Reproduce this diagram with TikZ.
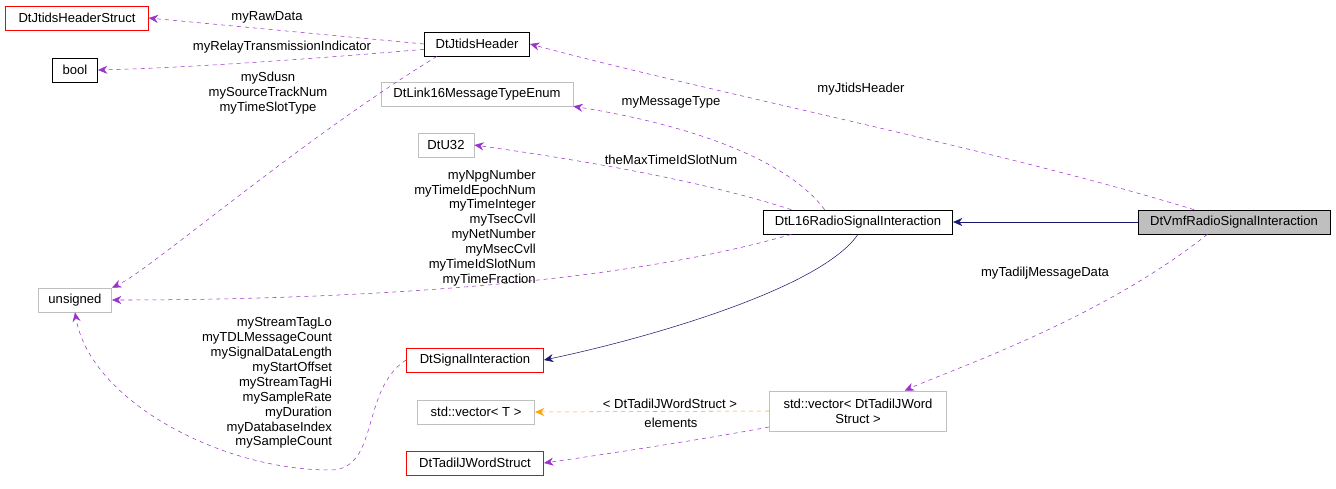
\documentclass[tikz,border=0pt]{standalone}
\usepackage{fontspec}
\setmainfont{Liberation Sans}
\usepackage{tikz}
\usetikzlibrary{positioning}
\usetikzlibrary{arrows.meta}
\definecolor{dxpurple}{HTML}{9A32CD}
\definecolor{dxnavy}{HTML}{191970}
\definecolor{dxorange}{HTML}{FFA500}
\definecolor{dxgray}{HTML}{BFBFBF}

\begin{document}
\begin{tikzpicture}[x=0.75pt,y=-0.75pt,
  font=\fontsize{9.8}{11.2}\selectfont,
  cls/.style={draw, rectangle, minimum height=18pt, inner sep=2pt, line width=0.5pt},
  red cls/.style={cls, draw=red},
  gray cls/.style={cls, draw=dxgray},
  use/.style={draw=dxpurple, dashed, -{Stealth[length=7pt,width=6pt]}},
  inh/.style={draw=dxnavy, -{Stealth[length=7pt,width=6pt]}},
  tpl/.style={draw=dxorange, dashed, -{Stealth[length=7pt,width=6pt]}},
  lbl/.style={align=center, inner sep=0pt}]

\useasboundingbox (0,0) rectangle (1336,489);

% Draw the classes
\node[red cls, minimum width=107pt] (hdrstruct) at (77,18) {DtJtidsHeaderStruct};
\node[cls, minimum width=34pt] (bool) at (75,70) {bool};
\node[cls, minimum width=79pt] (hdr) at (477,44) {DtJtidsHeader};
\node[gray cls, minimum width=144pt] (msgtype) at (477,94) {DtLink16MessageTypeEnum};
\node[gray cls, minimum width=42pt] (u32) at (446,145) {DtU32};
\node[cls, minimum width=142pt] (l16) at (858,222) {DtL16RadioSignalInteraction};
\node[cls, fill=dxgray, minimum width=144pt] (vmf) at (1234,222) {DtVmfRadioSignalInteraction};
\node[gray cls, minimum width=55pt] (unsigned) at (75,300) {unsigned};
\node[red cls, minimum width=103pt] (sig) at (475,360) {DtSignalInteraction};
\node[gray cls, minimum width=88pt] (vecT) at (476,412) {std::vector< T >};
\node[gray cls, minimum width=133pt, minimum height=30pt, align=center] (vecW) at (858,411) {std::vector< DtTadilJWord\\Struct >};
\node[red cls, minimum width=103pt] (word) at (475,463) {DtTadilJWordStruct};

% Draw the inheritance
\draw[inh] (vmf) -- (l16);
\draw[inh] (l16.south) .. controls (820,290) and (640,340) .. (sig.east);

% Draw the members
\draw[use] (hdr.west) -- (hdrstruct.east);
\draw[use] ([yshift=-4pt]hdr.west) .. controls (300,60) and (180,68) .. (bool.east);
\draw[use] ([xshift=-30pt]hdr.south) .. controls (300,140) and (150,270) .. (unsigned.north east);
\draw[use] ([xshift=-30pt]vmf.north) .. controls (1000,150) and (700,90) .. (hdr.east);
\draw[use] ([xshift=-25pt]l16.north) .. controls (780,150) and (660,120) .. (msgtype.south east);
\draw[use] ([xshift=-50pt]l16.north) .. controls (700,180) and (580,160) .. (u32.east);
\draw[use] ([xshift=-50pt]l16.south) .. controls (600,290) and (300,300) .. (unsigned.east);
\draw[use] (sig.west) .. controls (360,390) and (380,470) .. (330,470)
  .. controls (220,470) and (90,400) .. (unsigned.south);
\draw[use] ([xshift=-20pt]vmf.south) .. controls (1100,320) and (950,370) .. ([xshift=35pt]vecW.north);
\draw[tpl] (vecW.west) -- (vecT.east);
\draw[use] ([yshift=-12pt]vecW.west) .. controls (700,440) and (600,455) .. (word.east);

% Draw the labels
\node[lbl] (l1) at (267,17) {myRawData};
\node[lbl] (l2) at (282,47) {myRelayTransmissionIndicator};
\node[lbl] (l3) at (268,93) {mySdusn\\mySourceTrackNum\\myTimeSlotType};
\node[lbl] (l4) at (861,89) {myJtidsHeader};
\node[lbl] (l5) at (671,102) {myMessageType};
\node[lbl] (l6) at (671,160) {theMaxTimeIdSlotNum};
\node[lbl, align=right] (l7) at (475,228) {myNpgNumber\\myTimeIdEpochNum\\myTimeInteger\\myTsecCvll\\myNetNumber\\myMsecCvll\\myTimeIdSlotNum\\myTimeFraction};
\node[lbl, align=right] (l8) at (267,383) {myStreamTagLo\\myTDLMessageCount\\mySignalDataLength\\myStartOffset\\myStreamTagHi\\mySampleRate\\myDuration\\myDatabaseIndex\\mySampleCount};
\node[lbl] (l9) at (1045,273) {myTadiljMessageData};
\node[lbl] (l10) at (670,404) {< DtTadilJWordStruct >};
\node[lbl] (l11) at (671,423) {elements};

\end{tikzpicture}
\end{document}
